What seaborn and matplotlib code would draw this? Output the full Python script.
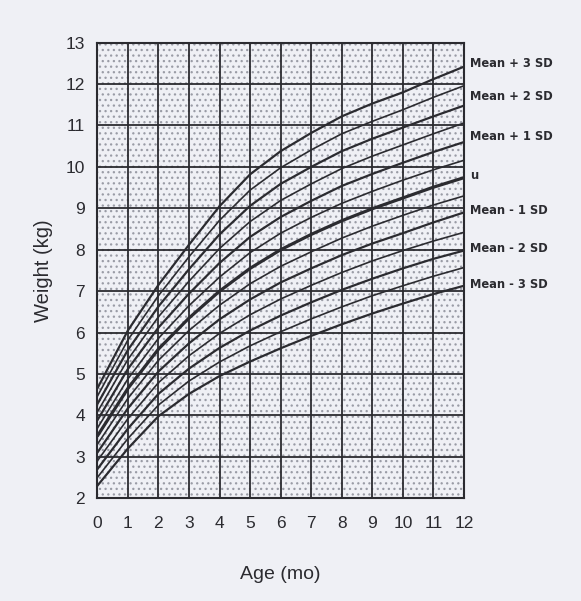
import pandas as pd
import seaborn as sns
import matplotlib
matplotlib.use("Agg")
import matplotlib.pyplot as plt
from matplotlib.patches import Rectangle

# ages (months) where the curves were read
ages = [0, 1, 2, 3, 4, 5, 6, 7, 8, 9, 10, 11, 12]

# weight (kg), -3 SD up to +3 SD in half SD steps
sd_m30 = [2.30, 3.20, 3.98, 4.52, 4.95, 5.30, 5.62, 5.92, 6.20, 6.46, 6.70, 6.93, 7.13]
sd_m25 = [2.50, 3.44, 4.25, 4.83, 5.29, 5.68, 6.02, 6.33, 6.62, 6.89, 7.13, 7.36, 7.57]
sd_m20 = [2.70, 3.68, 4.52, 5.13, 5.63, 6.05, 6.41, 6.73, 7.03, 7.30, 7.55, 7.78, 7.98]
sd_m15 = [2.90, 3.92, 4.79, 5.44, 5.98, 6.43, 6.81, 7.14, 7.45, 7.73, 7.98, 8.21, 8.42]
sd_m10 = [3.10, 4.17, 5.06, 5.74, 6.32, 6.80, 7.21, 7.55, 7.87, 8.15, 8.40, 8.66, 8.90]
sd_m05 = [3.30, 4.41, 5.33, 6.05, 6.66, 7.18, 7.60, 7.95, 8.28, 8.57, 8.83, 9.08, 9.30]
mean = [3.50, 4.65, 5.60, 6.35, 7.00, 7.55, 8.00, 8.37, 8.70, 8.99, 9.25, 9.51, 9.74]
sd_p05 = [3.69, 4.88, 5.86, 6.65, 7.34, 7.93, 8.40, 8.78, 9.12, 9.41, 9.68, 9.93, 10.16]
sd_p10 = [3.88, 5.12, 6.12, 6.94, 7.68, 8.31, 8.79, 9.18, 9.54, 9.83, 10.10, 10.36, 10.60]
sd_p15 = [4.08, 5.35, 6.38, 7.24, 8.03, 8.68, 9.19, 9.59, 9.96, 10.26, 10.53, 10.80, 11.06]
sd_p20 = [4.27, 5.58, 6.63, 7.53, 8.37, 9.06, 9.59, 10.00, 10.38, 10.68, 10.95, 11.22, 11.48]
sd_p25 = [4.46, 5.82, 6.89, 7.83, 8.71, 9.44, 9.98, 10.41, 10.80, 11.10, 11.38, 11.68, 11.96]
sd_p30 = [4.65, 6.05, 7.15, 8.12, 9.05, 9.82, 10.38, 10.82, 11.22, 11.53, 11.80, 12.12, 12.42]

curve_names = ["-3", "-2.5", "-2", "-1.5", "-1", "-0.5", "0",
               "+0.5", "+1", "+1.5", "+2", "+2.5", "+3"]
curve_values = [sd_m30, sd_m25, sd_m20, sd_m15, sd_m10, sd_m05, mean,
                sd_p05, sd_p10, sd_p15, sd_p20, sd_p25, sd_p30]

# labels at the right hand end of the curves
label_text = ["Mean + 3 SD", "Mean + 2 SD", "Mean + 1 SD", "u",
              "Mean - 1 SD", "Mean - 2 SD", "Mean - 3 SD"]
label_y = [12.50, 11.69, 10.74, 9.79, 8.94, 8.02, 7.15]

rows = []
for name, vals in zip(curve_names, curve_values):
    for a, w in zip(ages, vals):
        rows.append({"age": a, "weight": w, "curve": name})
df = pd.DataFrame(rows)

sns.set_style("white")
plt.rcParams["font.family"] = ["Liberation Sans", "DejaVu Sans"]

paper = "#eff0f5"
ink = "#2b2b30"

fig = plt.figure(figsize=(5.81, 6.01), dpi=100, facecolor=paper)
ax = fig.add_axes([0.1675, 0.171, 0.631, 0.758])
ax.set_facecolor(paper)

# stippled background of the chart paper
plt.rcParams["hatch.linewidth"] = 0.9
ax.add_patch(Rectangle((0, 2), 12, 11, facecolor="none", edgecolor="#9a9ca6",
                       hatch="...", linewidth=0, zorder=0))

# grid
for v in range(0, 13):
    ax.axvline(v, color=ink, lw=1.3, zorder=1)
for v in range(2, 14):
    ax.axhline(v, color=ink, lw=1.3, zorder=1)

for name in curve_names:
    sub = df[df["curve"] == name]
    if name == "0":
        lw = 2.3
    elif "." in name:
        lw = 1.2
    else:
        lw = 1.6
    sns.lineplot(data=sub, x="age", y="weight", ax=ax, color=ink, lw=lw,
                 legend=False, zorder=3)

ax.set_xlim(0, 12)
ax.set_ylim(2, 13)
ax.set_xticks(range(0, 13))
ax.set_yticks(range(2, 14))
ax.tick_params(axis="x", length=0, pad=13, labelsize=12.5, labelcolor=ink)
ax.tick_params(axis="y", length=0, pad=9, labelsize=12.5, labelcolor=ink)
for s in ax.spines.values():
    s.set_color(ink)
    s.set_linewidth(1.5)

ax.set_xlabel("Age (mo)", fontsize=14, color=ink)
ax.set_ylabel("Weight (kg)", fontsize=14.5, color=ink)
ax.xaxis.set_label_coords(0.5, -0.148)
ax.yaxis.set_label_coords(-0.12, 0.5)

for t, y in zip(label_text, label_y):
    ax.text(12.2, y, t, fontsize=8.3, fontweight="bold", color=ink,
            family=["DejaVu Sans"], va="center", ha="left", clip_on=False)

fig.savefig("out.png", dpi=100, facecolor=paper)
